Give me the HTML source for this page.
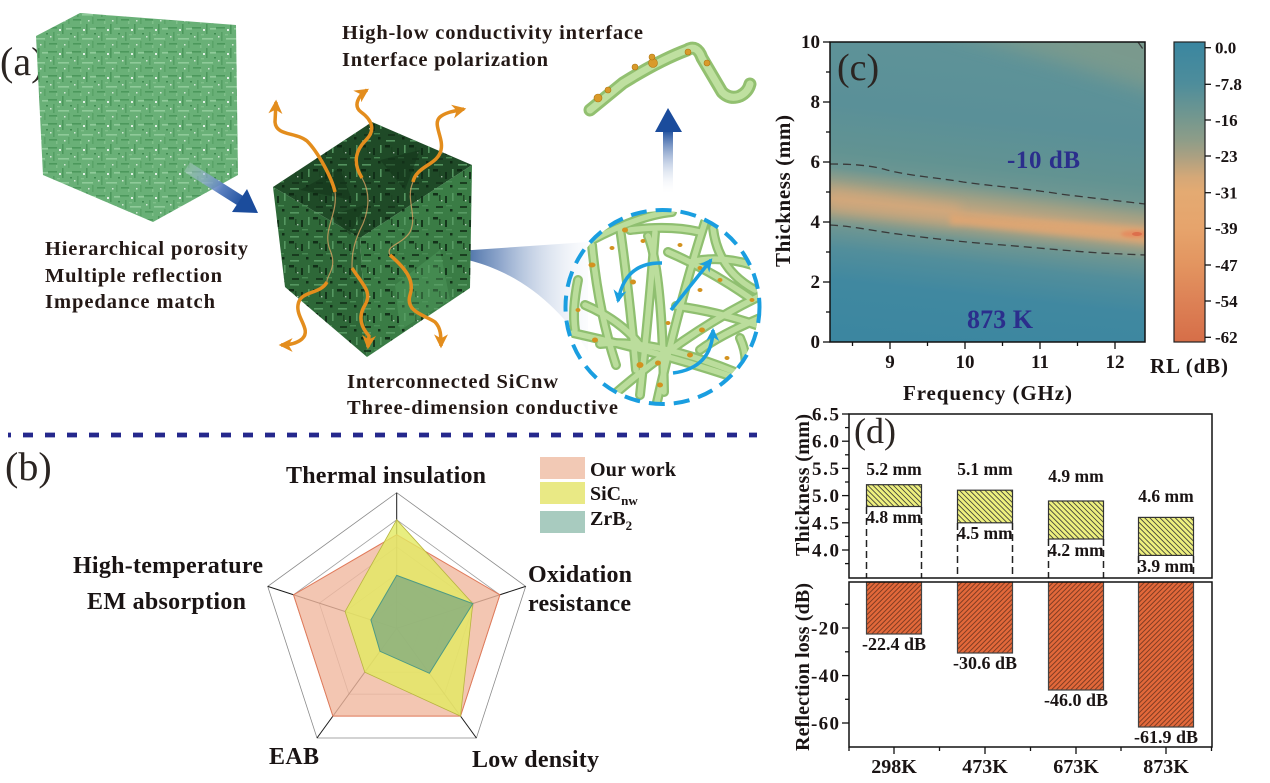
<!DOCTYPE html>
<html><head><meta charset="utf-8">
<style>
html,body{margin:0;padding:0;background:#fff;}
svg{display:block;}
text{font-family:"Liberation Serif","DejaVu Serif",serif;}
.b{font-weight:bold;fill:#1a1414;}
.pl{font-weight:normal;fill:#2b2522;}
</style></head><body>
<svg width="1270" height="783" viewBox="0 0 1270 783" xmlns="http://www.w3.org/2000/svg">
<defs>
 <pattern id="lg" width="24" height="24" patternUnits="userSpaceOnUse">
  <rect width="24" height="24" fill="#69b077"/>
  <rect x="0" y="3" width="9" height="1.6" fill="#4c985c"/>
  <rect x="14" y="0" width="1.6" height="10" fill="#4c985c"/>
  <rect x="5" y="8" width="1.6" height="9" fill="#559f64"/>
  <rect x="10" y="14" width="11" height="1.6" fill="#8fca99"/>
  <rect x="18" y="4" width="6" height="1.6" fill="#8fca99"/>
  <rect x="1" y="19" width="8" height="1.6" fill="#4c985c"/>
  <rect x="20" y="17" width="1.6" height="7" fill="#5aa468"/>
  <rect x="11" y="5" width="2" height="2" fill="#ffffff" opacity="0.8"/>
  <rect x="2" y="12" width="1.5" height="1.5" fill="#ffffff" opacity="0.7"/>
  <rect x="16" y="20" width="1.5" height="1.5" fill="#ffffff" opacity="0.7"/>
  <rect x="8" y="21" width="1.5" height="3" fill="#7fbf8a"/>
  <rect x="22" y="9" width="2" height="1.5" fill="#3f8a50"/>
  <rect x="9" y="10" width="3" height="1.4" fill="#7fbf8a"/>
 </pattern>
 <pattern id="dk" width="24" height="24" patternUnits="userSpaceOnUse">
  <rect x="1" y="1" width="5" height="2.5" fill="#0c2411"/>
  <rect x="13" y="4" width="2" height="7" fill="#0f2a15"/>
  <rect x="4" y="14" width="7" height="2" fill="#14331a"/>
  <rect x="18" y="17" width="2.5" height="2.5" fill="#0c2411"/>
  <rect x="9" y="8" width="1.4" height="1.4" fill="#ffffff" opacity="0.7"/>
  <rect x="20" y="1" width="1.6" height="8" fill="#5c9f68"/>
  <rect x="2" y="20" width="9" height="1.6" fill="#5c9f68"/>
  <rect x="14" y="13" width="6" height="1.4" fill="#4d8f58"/>
  <rect x="7" y="3" width="1.5" height="6" fill="#1b4322"/>
 </pattern>
 <linearGradient id="ba" gradientUnits="userSpaceOnUse" x1="187" y1="167" x2="245" y2="204">
  <stop offset="0" stop-color="#c8d4ea" stop-opacity="0.3"/>
  <stop offset="0.6" stop-color="#5a7fbf"/>
  <stop offset="1" stop-color="#1b4c9c"/>
 </linearGradient>
 <linearGradient id="cone" gradientUnits="userSpaceOnUse" x1="443" y1="0" x2="600" y2="0">
  <stop offset="0" stop-color="#17488a"/>
  <stop offset="0.35" stop-color="#6d8cbc" stop-opacity="0.8"/>
  <stop offset="1" stop-color="#e8eef8" stop-opacity="0"/>
 </linearGradient>
 <linearGradient id="va" gradientUnits="userSpaceOnUse" x1="0" y1="195" x2="0" y2="130">
  <stop offset="0" stop-color="#ffffff" stop-opacity="0"/>
  <stop offset="1" stop-color="#1b4c9c"/>
 </linearGradient>
 <clipPath id="circ"><circle cx="662.5" cy="307" r="96"/></clipPath>
 <clipPath id="plot"><rect x="830" y="42" width="315" height="300"/></clipPath>
 <marker id="oh" viewBox="0 0 12 12" refX="10" refY="6" markerWidth="14" markerHeight="14" markerUnits="userSpaceOnUse" orient="auto">
  <path d="M0,0 L12,6 L0,12 L3.5,6 Z" fill="#e38d1d"/>
 </marker>
 <marker id="bh" viewBox="0 0 12 12" refX="10" refY="6" markerWidth="13" markerHeight="13" markerUnits="userSpaceOnUse" orient="auto">
  <path d="M0,0 L12,6 L0,12 L3.5,6 Z" fill="#1a9fe0"/>
 </marker>
 <linearGradient id="hm" gradientUnits="userSpaceOnUse" x1="1006" y1="41" x2="971" y2="360">
  <stop offset="0" stop-color="#5f9398"/>
  <stop offset="0.25" stop-color="#5a9098"/>
  <stop offset="0.40" stop-color="#629392"/>
  <stop offset="0.45" stop-color="#6c9692"/>
  <stop offset="0.50" stop-color="#a0a085"/>
  <stop offset="0.547" stop-color="#c9a67d"/>
  <stop offset="0.59" stop-color="#a3a084"/>
  <stop offset="0.633" stop-color="#6e9692"/>
  <stop offset="0.70" stop-color="#528e9b"/>
  <stop offset="0.80" stop-color="#4088a0"/>
  <stop offset="1" stop-color="#3b86a0"/>
 </linearGradient>
 <linearGradient id="cb" x1="0" y1="0" x2="0" y2="1">
  <stop offset="0" stop-color="#3a86a0"/>
  <stop offset="0.14" stop-color="#4e8d9b"/>
  <stop offset="0.26" stop-color="#76988e"/>
  <stop offset="0.33" stop-color="#8f9d88"/>
  <stop offset="0.38" stop-color="#aaa082"/>
  <stop offset="0.45" stop-color="#d4a878"/>
  <stop offset="0.50" stop-color="#e4aa72"/>
  <stop offset="0.62" stop-color="#e6a46c"/>
  <stop offset="0.74" stop-color="#e39560"/>
  <stop offset="0.86" stop-color="#dd8256"/>
  <stop offset="1" stop-color="#d66e48"/>
 </linearGradient>
 <filter id="bl10" x="-30%" y="-100%" width="160%" height="300%"><feGaussianBlur stdDeviation="10"/></filter>
 <filter id="bl5" x="-30%" y="-100%" width="160%" height="300%"><feGaussianBlur stdDeviation="5"/></filter>
 <filter id="bl3" x="-30%" y="-100%" width="160%" height="300%"><feGaussianBlur stdDeviation="3"/></filter>
 <filter id="bl1" x="-50%" y="-200%" width="200%" height="500%"><feGaussianBlur stdDeviation="1.5"/></filter>
 <pattern id="hy" width="3.6" height="10" patternUnits="userSpaceOnUse" patternTransform="rotate(-45)">
  <rect width="3.6" height="10" fill="#eef07e"/>
  <line x1="0.5" y1="0" x2="0.5" y2="10" stroke="#333" stroke-width="0.8"/>
 </pattern>
 <pattern id="ho" width="3.4" height="10" patternUnits="userSpaceOnUse" patternTransform="rotate(45)">
  <rect width="3.4" height="10" fill="#e2683a"/>
  <line x1="0.5" y1="0" x2="0.5" y2="10" stroke="#5a2a18" stroke-width="0.7"/>
 </pattern>
</defs>

<!-- ================= PANEL (a) ================= -->
<text class="pl" x="0" y="75" font-size="40">(a)</text>

<!-- light cube -->
<polygon points="36,36 80,13 236,25 238,175 153,222 43,175" fill="url(#lg)"/>

<!-- blue diagonal arrow -->
<line x1="187" y1="167" x2="244" y2="203" stroke="url(#ba)" stroke-width="11"/>
<polygon points="258,213 232,212 247,189" fill="#1b4c9c"/>

<!-- cone -->
<path d="M443,252 L588,242 L588,352 C560,305 510,262 443,256 Z" fill="url(#cone)"/>

<!-- dark cube -->
<polygon points="273,187 372,122 472,165 360,238" fill="#1f4a27"/>
<polygon points="273,187 360,238 367,357 285,287" fill="#2e6838"/>
<polygon points="360,238 472,165 470,288 367,357" fill="#3a7c45"/>
<polygon points="273,187 372,122 472,165 470,288 367,357 285,287" fill="url(#dk)" opacity="0.85"/>
<polygon points="300,190 340,168 352,200" fill="#14351a" opacity="0.6"/>
<polygon points="380,160 420,150 405,190" fill="#14351a" opacity="0.6"/>
<polygon points="330,215 365,205 350,235" fill="#14351a" opacity="0.5"/>
<polygon points="395,285 440,250 450,300 400,330" fill="#55a062" opacity="0.4"/>

<!-- faint wave continuations -->
<g fill="none" stroke="#d9a262" stroke-width="1.2" opacity="0.8">
 <path d="M335,192 C338,215 322,230 330,250 C338,268 326,276 327,282"/>
 <path d="M362,178 C372,195 368,215 360,230 C352,248 352,258 352,268"/>
 <path d="M413,182 C405,200 418,215 410,232 C402,245 385,245 390,255"/>
</g>
<!-- orange wave arrows -->
<g fill="none" stroke="#e38d1d" stroke-width="3.5" marker-end="url(#oh)">
 <path d="M335,192 C332,178 318,152 307,141 C296,132 276,136 275,122 L276,102"/>
 <path d="M362,178 C352,162 356,150 366,140 C376,130 372,120 361,112 C353,106 358,96 367,90"/>
 <path d="M413,182 C416,166 438,165 441,150 C444,138 432,124 440,117 C446,112 455,111 464,109"/>
 <path d="M327,282 C320,295 300,290 298,305 C296,318 312,330 302,339 C296,344 288,345 281,345"/>
 <path d="M352,268 C362,284 373,292 365,305 C357,318 362,328 369,336 L368,347"/>
 <path d="M390,255 C405,268 415,280 410,295 C405,312 425,315 435,322 C441,328 441,336 441,346"/>
</g>

<!-- circle fibers -->
<g clip-path="url(#circ)" fill="none" stroke-linecap="round">
 <g stroke="#8fbf70" stroke-width="10">
  <path d="M592,245 Q598,310 616,365"/>
  <path d="M620,228 Q630,300 636,370"/>
  <path d="M573,333 Q660,352 748,382"/>
  <path d="M705,222 Q680,300 657,402"/>
  <path d="M713,228 Q718,270 755,290"/>
  <path d="M592,240 Q640,215 672,212"/>
  <path d="M648,236 Q662,270 664,392"/>
  <path d="M676,306 Q720,312 762,327"/>
  <path d="M600,344 Q650,338 735,372"/>
  <path d="M740,338 Q750,360 742,378"/>
  <path d="M578,280 Q572,310 575,330"/>
  <path d="M668,252 Q710,270 750,298"/>
  <path d="M630,230 Q670,225 700,232"/>
  <path d="M690,262 Q720,255 752,265"/>
  <path d="M585,305 Q620,320 640,345"/>
  <path d="M700,350 Q720,335 760,318"/>
  <path d="M655,232 Q650,300 640,395"/>
  <path d="M617,392 Q690,330 758,297"/>
 </g>
 <g stroke="#bbdd9c" stroke-width="5.5">
  <path d="M592,245 Q598,310 616,365"/>
  <path d="M620,228 Q630,300 636,370"/>
  <path d="M573,333 Q660,352 748,382"/>
  <path d="M705,222 Q680,300 657,402"/>
  <path d="M713,228 Q718,270 755,290"/>
  <path d="M592,240 Q640,215 672,212"/>
  <path d="M648,236 Q662,270 664,392"/>
  <path d="M676,306 Q720,312 762,327"/>
  <path d="M600,344 Q650,338 735,372"/>
  <path d="M740,338 Q750,360 742,378"/>
  <path d="M578,280 Q572,310 575,330"/>
  <path d="M668,252 Q710,270 750,298"/>
  <path d="M630,230 Q670,225 700,232"/>
  <path d="M690,262 Q720,255 752,265"/>
  <path d="M585,305 Q620,320 640,345"/>
  <path d="M700,350 Q720,335 760,318"/>
  <path d="M655,232 Q650,300 640,395"/>
  <path d="M617,392 Q690,330 758,297"/>
 </g>
 <g fill="#d3921f">
  <ellipse cx="625" cy="230" rx="3" ry="2.5"/><ellipse cx="592" cy="265" rx="3.5" ry="2.5"/>
  <ellipse cx="643" cy="241" rx="2.5" ry="2"/><ellipse cx="633" cy="282" rx="3" ry="2.5"/>
  <ellipse cx="680" cy="245" rx="2.5" ry="2"/><ellipse cx="700" cy="268" rx="2.5" ry="2"/>
  <ellipse cx="720" cy="280" rx="2.5" ry="2"/><ellipse cx="595" cy="340" rx="3" ry="2.5"/>
  <ellipse cx="640" cy="365" rx="3.5" ry="3"/><ellipse cx="658" cy="363" rx="3" ry="2.5"/>
  <ellipse cx="690" cy="355" rx="3" ry="2.5"/><ellipse cx="702" cy="330" rx="3" ry="2.5"/>
  <ellipse cx="727" cy="358" rx="2.5" ry="2"/><ellipse cx="735" cy="375" rx="3" ry="2.5"/>
  <ellipse cx="745" cy="360" rx="2.5" ry="2"/><ellipse cx="612" cy="248" rx="2.5" ry="2"/>
  <ellipse cx="668" cy="323" rx="2.5" ry="2"/><ellipse cx="660" cy="385" rx="3" ry="2.5"/>
  <ellipse cx="700" cy="290" rx="2.5" ry="2"/><ellipse cx="752" cy="300" rx="2.5" ry="2"/>
  <ellipse cx="578" cy="310" rx="2.5" ry="2"/>
 </g>
</g>
<!-- blue arrows in circle -->
<g fill="none" stroke="#1a9fe0" stroke-width="3.5" marker-end="url(#bh)">
 <path d="M662,263 Q625,262 618,301"/>
 <path d="M671,310 L711,260"/>
 <path d="M673,373 Q712,368 713,330"/>
</g>
<circle cx="662.5" cy="307" r="97" fill="none" stroke="#1a9ee0" stroke-width="4" stroke-dasharray="16 9"/>

<!-- vertical blue arrow -->
<rect x="663" y="130" width="10" height="65" fill="url(#va)"/>
<polygon points="655,132 682,132 668,108" fill="#1b4c9c"/>

<!-- single fiber top-right -->
<path d="M590,110 L623,83 Q660,60 687,50 Q697,44 702,58 L722,92 Q730,100 740,96 Q748,92 750,84" fill="none" stroke="#92c070" stroke-width="13" stroke-linecap="round" stroke-linejoin="round"/>
<path d="M590,110 L623,83 Q660,60 687,50 Q697,44 702,58 L722,92 Q730,100 740,96 Q748,92 750,84" fill="none" stroke="#bfe0a0" stroke-width="7" stroke-linecap="round" stroke-linejoin="round"/>
<g fill="#d99a2a" stroke="#b07410" stroke-width="0.6">
 <circle cx="598" cy="98" r="4"/><circle cx="608" cy="90" r="3"/><circle cx="635" cy="67" r="3"/>
 <circle cx="653" cy="63" r="4.5"/><circle cx="652" cy="57" r="3"/><circle cx="688" cy="52" r="3"/>
 <circle cx="707" cy="63" r="3"/>
</g>

<!-- panel (a) text -->
<g class="b" font-size="20.5" style="fill:#231815">
 <text x="342" y="39" textLength="301">High-low conductivity interface</text>
 <text x="342" y="66" textLength="206">Interface polarization</text>
 <text x="45" y="255" textLength="203">Hierarchical porosity</text>
 <text x="45" y="282" textLength="177">Multiple reflection</text>
 <text x="45" y="308" textLength="170">Impedance match</text>
 <text x="347" y="388" textLength="211">Interconnected SiCnw</text>
 <text x="347" y="414" textLength="271">Three-dimension conductive</text>
</g>

<!-- separator -->
<line x1="8" y1="435" x2="757" y2="435" stroke="#25288c" stroke-width="4.7" stroke-dasharray="10 12" stroke-dashoffset="7"/>

<!-- ================= PANEL (b) ================= -->
<text class="pl" x="5" y="480" font-size="40">(b)</text>

<g fill="none">
 <polygon points="396.7,601.2 422.5,619.9 412.6,650.2 380.8,650.2 370.9,619.9" stroke="#b0b0b0" stroke-width="0.7"/>
 <polygon points="396.7,574.1 448.3,611.5 428.6,672.2 364.8,672.2 345.1,611.5" stroke="#b0b0b0" stroke-width="0.7"/>
 <polygon points="396.7,546.9 474.1,603.2 444.5,694.1 348.9,694.1 319.3,603.2" stroke="#a0a0a0" stroke-width="0.8"/>
 <polygon points="396.7,519.8 499.9,594.8 460.5,716.1 332.9,716.1 293.5,594.8" stroke="#a0a0a0" stroke-width="0.8"/>
 <polygon points="396.7,492.7 525.7,586.4 476.4,738.0 317.0,738.0 267.7,586.4" stroke="#8a8a8a" stroke-width="0.8"/>
</g>
<g stroke="#1a1a1a" stroke-width="1">
 <line x1="396.7" y1="628.3" x2="396.7" y2="492.7"/>
 <line x1="396.7" y1="628.3" x2="525.7" y2="586.4"/>
 <line x1="396.7" y1="628.3" x2="476.4" y2="738.0"/>
 <line x1="396.7" y1="628.3" x2="317.0" y2="738.0"/>
 <line x1="396.7" y1="628.3" x2="267.7" y2="586.4"/>
</g>
<polygon points="396.7,534.7 499.9,594.8 460.5,716.1 332.9,716.1 293.5,594.8" fill="#f0b89f" fill-opacity="0.8" stroke="#e07a5a" stroke-width="1"/>
<polygon points="396.7,519.8 472.8,603.6 460.5,716.1 364.8,672.2 345.1,611.5" fill="#e2ea60" fill-opacity="0.8" stroke="#b8b440" stroke-width="0.8"/>
<polygon points="396.7,575.4 472.8,603.6 429.4,673.3 380.0,651.3 370.9,619.9" fill="#85ac7f" fill-opacity="0.8" stroke="#4e9a84" stroke-width="1"/>

<g class="b" font-size="24">
 <text x="286" y="483" textLength="200">Thermal insulation</text>
 <text x="73" y="573" textLength="190">High-temperature</text>
 <text x="87" y="609" textLength="159">EM absorption</text>
 <text x="528" y="582" textLength="104">Oxidation</text>
 <text x="528" y="611" textLength="103">resistance</text>
 <text x="269" y="764" textLength="50">EAB</text>
 <text x="472" y="767" textLength="127">Low density</text>
</g>

<!-- legend -->
<rect x="540" y="457" width="45" height="22" fill="#f2c9b5"/>
<rect x="540" y="482" width="45" height="22" fill="#e9e985"/>
<rect x="540" y="511" width="45" height="22" fill="#a8cbbf"/>
<g class="b" font-size="20">
 <text x="590" y="476" textLength="86">Our work</text>
 <text x="590" y="500">SiC<tspan font-size="13" dy="5">nw</tspan></text>
 <text x="590" y="525">ZrB<tspan font-size="13" dy="5">2</tspan></text>
</g>

<!-- ================= PANEL (c) ================= -->
<g clip-path="url(#plot)">
 <rect x="830" y="42" width="315" height="300" fill="url(#hm)"/>
 <polygon points="930,25 1165,25 1165,95 1060,62" fill="#7f9b8c" opacity="0.85" filter="url(#bl10)"/>
 <polygon points="830,188 960,205 960,224 830,210" fill="#d6a87a" opacity="0.6" filter="url(#bl5)"/>
 <polygon points="950,214 1150,228 1150,244 950,224" fill="#e0a672" opacity="0.9" filter="url(#bl3)"/>
 <ellipse cx="1135" cy="234" rx="14" ry="3.5" fill="#e48d60" filter="url(#bl1)"/>
 <ellipse cx="1137" cy="234" rx="5" ry="2" fill="#dc6f4c"/>
 <g fill="none" stroke="#3a3a3a" stroke-width="1.3" stroke-dasharray="8 5">
  <path d="M830,164 C850,164 870,165 887,170 C910,176 940,178 963,182 C1000,187 1030,189 1060,194 C1100,199 1120,201 1145,204"/>
  <path d="M830,225 C850,226 870,230 890,233 C920,237 960,242 1003,245 C1040,248 1070,251 1100,253 L1145,255"/>
  <path d="M1138,42 L1145,52"/>
 </g>
</g>
<rect x="830" y="42" width="315" height="300" fill="none" stroke="#111" stroke-width="1.5"/>
<g stroke="#111" stroke-width="1.3">
 <line x1="823" y1="42" x2="830" y2="42"/><line x1="823" y1="102" x2="830" y2="102"/>
 <line x1="823" y1="162" x2="830" y2="162"/><line x1="823" y1="222" x2="830" y2="222"/>
 <line x1="823" y1="282" x2="830" y2="282"/><line x1="823" y1="342" x2="830" y2="342"/>
 <line x1="826" y1="72" x2="830" y2="72"/><line x1="826" y1="132" x2="830" y2="132"/>
 <line x1="826" y1="192" x2="830" y2="192"/><line x1="826" y1="252" x2="830" y2="252"/>
 <line x1="826" y1="312" x2="830" y2="312"/>
 <line x1="890" y1="342" x2="890" y2="349"/><line x1="965" y1="342" x2="965" y2="349"/>
 <line x1="1040" y1="342" x2="1040" y2="349"/><line x1="1115" y1="342" x2="1115" y2="349"/>
 <line x1="852.5" y1="342" x2="852.5" y2="346"/><line x1="927.5" y1="342" x2="927.5" y2="346"/>
 <line x1="1002.5" y1="342" x2="1002.5" y2="346"/><line x1="1077.5" y1="342" x2="1077.5" y2="346"/>
</g>
<g class="b" font-size="19" text-anchor="end">
 <text x="820" y="48">10</text><text x="820" y="108">8</text><text x="820" y="168">6</text>
 <text x="820" y="228">4</text><text x="820" y="288">2</text><text x="820" y="348">0</text>
</g>
<g class="b" font-size="19" text-anchor="middle">
 <text x="890" y="368">9</text><text x="965" y="368">10</text>
 <text x="1040" y="368">11</text><text x="1115" y="368">12</text>
</g>
<text class="b" x="903" y="400" font-size="21" textLength="169">Frequency (GHz)</text>
<text class="b" font-size="21" text-anchor="middle" transform="translate(790,191) rotate(-90)" textLength="152">Thickness (mm)</text>
<text class="pl" x="837" y="80" font-size="38">(c)</text>
<text x="1007" y="168" font-size="25" font-weight="bold" fill="#2b2e8c" textLength="73">-10 dB</text>
<text x="967" y="328" font-size="26" font-weight="bold" fill="#2b2e8c" textLength="66">873 K</text>

<!-- colorbar -->
<rect x="1174" y="42" width="31" height="300" fill="url(#cb)" stroke="#222" stroke-width="1.2"/>
<g stroke="#111" stroke-width="1.3">
 <line x1="1205" y1="47.7" x2="1211" y2="47.7"/><line x1="1205" y1="84.3" x2="1211" y2="84.3"/>
 <line x1="1205" y1="120" x2="1211" y2="120"/><line x1="1205" y1="156" x2="1211" y2="156"/>
 <line x1="1205" y1="192.7" x2="1211" y2="192.7"/><line x1="1205" y1="228.3" x2="1211" y2="228.3"/>
 <line x1="1205" y1="265" x2="1211" y2="265"/><line x1="1205" y1="301" x2="1211" y2="301"/>
 <line x1="1205" y1="337.3" x2="1211" y2="337.3"/>
</g>
<g class="b" font-size="17">
 <text x="1215" y="53.5">0.0</text><text x="1215" y="90">-7.8</text>
 <text x="1215" y="126">-16</text><text x="1215" y="162">-23</text>
 <text x="1215" y="198.5">-31</text><text x="1215" y="234">-39</text>
 <text x="1215" y="271">-47</text><text x="1215" y="307">-54</text>
 <text x="1215" y="343">-62</text>
</g>
<text class="b" x="1150" y="373" font-size="21" textLength="78">RL (dB)</text>

<!-- ================= PANEL (d) ================= -->
<rect x="866.5" y="484.7" width="55" height="21.8" fill="url(#hy)" stroke="#333" stroke-width="1.2"/>
<rect x="957.5" y="490.2" width="55" height="32.6" fill="url(#hy)" stroke="#333" stroke-width="1.2"/>
<rect x="1048.5" y="501" width="55" height="38" fill="url(#hy)" stroke="#333" stroke-width="1.2"/>
<rect x="1138.5" y="517.4" width="55" height="38" fill="url(#hy)" stroke="#333" stroke-width="1.2"/>
<g stroke="#222" stroke-width="1.5" stroke-dasharray="7 4">
 <line x1="866.5" y1="507" x2="866.5" y2="578"/><line x1="921.5" y1="507" x2="921.5" y2="578"/>
 <line x1="957.5" y1="523" x2="957.5" y2="578"/><line x1="1012.5" y1="523" x2="1012.5" y2="578"/>
 <line x1="1048.5" y1="539" x2="1048.5" y2="578"/><line x1="1103.5" y1="539" x2="1103.5" y2="578"/>
 <line x1="1138.5" y1="556" x2="1138.5" y2="578"/><line x1="1193.5" y1="556" x2="1193.5" y2="578"/>
</g>
<rect x="866.5" y="582" width="55" height="52" fill="url(#ho)" stroke="#444" stroke-width="1.2"/>
<rect x="957.5" y="582" width="55" height="71" fill="url(#ho)" stroke="#444" stroke-width="1.2"/>
<rect x="1048.5" y="582" width="55" height="108" fill="url(#ho)" stroke="#444" stroke-width="1.2"/>
<rect x="1138.5" y="582" width="55" height="145" fill="url(#ho)" stroke="#444" stroke-width="1.2"/>

<rect x="849" y="414" width="363" height="164" fill="none" stroke="#111" stroke-width="1.5"/>
<rect x="849" y="582" width="363" height="165" fill="none" stroke="#111" stroke-width="1.5"/>

<g stroke="#111" stroke-width="1.3">
 <line x1="842" y1="414" x2="849" y2="414"/><line x1="842" y1="441.2" x2="849" y2="441.2"/>
 <line x1="842" y1="468.4" x2="849" y2="468.4"/><line x1="842" y1="495.6" x2="849" y2="495.6"/>
 <line x1="842" y1="522.8" x2="849" y2="522.8"/><line x1="842" y1="550" x2="849" y2="550"/>
 <line x1="845" y1="427.6" x2="849" y2="427.6"/><line x1="845" y1="454.8" x2="849" y2="454.8"/>
 <line x1="845" y1="482" x2="849" y2="482"/><line x1="845" y1="509.2" x2="849" y2="509.2"/>
 <line x1="845" y1="536.4" x2="849" y2="536.4"/><line x1="845" y1="563.6" x2="849" y2="563.6"/>
 <line x1="842" y1="628" x2="849" y2="628"/><line x1="842" y1="675.6" x2="849" y2="675.6"/>
 <line x1="842" y1="723" x2="849" y2="723"/>
 <line x1="845" y1="604.3" x2="849" y2="604.3"/><line x1="845" y1="651.8" x2="849" y2="651.8"/>
 <line x1="845" y1="699.3" x2="849" y2="699.3"/>
 <line x1="894" y1="747" x2="894" y2="754"/><line x1="985" y1="747" x2="985" y2="754"/>
 <line x1="1076" y1="747" x2="1076" y2="754"/><line x1="1166" y1="747" x2="1166" y2="754"/>
 <line x1="849" y1="747" x2="849" y2="751"/><line x1="939.5" y1="747" x2="939.5" y2="751"/>
 <line x1="1030.5" y1="747" x2="1030.5" y2="751"/><line x1="1121" y1="747" x2="1121" y2="751"/>
 <line x1="1211.5" y1="747" x2="1211.5" y2="751"/>
</g>

<g class="b" font-size="19" text-anchor="end">
 <text x="839" y="420.5" textLength="27">6.5</text><text x="839" y="447.7" textLength="27">6.0</text>
 <text x="839" y="474.9" textLength="27">5.5</text><text x="839" y="502.1" textLength="27">5.0</text>
 <text x="839" y="529.3" textLength="27">4.5</text><text x="839" y="556.5" textLength="27">4.0</text>
 <text x="839" y="634.5" textLength="28">-20</text><text x="839" y="682" textLength="28">-40</text>
 <text x="839" y="729.5" textLength="28">-60</text>
</g>
<text class="b" font-size="20" text-anchor="middle" transform="translate(809,485) rotate(-90)" textLength="142">Thickness (mm)</text>
<text class="b" font-size="20" text-anchor="middle" transform="translate(809,667) rotate(-90)" textLength="168">Reflection loss (dB)</text>

<g class="b" font-size="20" text-anchor="middle">
 <text x="894" y="773">298K</text><text x="985" y="773">473K</text>
 <text x="1076" y="773">673K</text><text x="1166" y="773">873K</text>
</g>
<g class="b" font-size="17.5" text-anchor="middle">
 <text x="894" y="475">5.2 mm</text><text x="985" y="475">5.1 mm</text>
 <text x="1076" y="482">4.9 mm</text><text x="1166" y="502">4.6 mm</text>
 <text x="894" y="523">4.8 mm</text><text x="985" y="539">4.5 mm</text>
 <text x="1076" y="556">4.2 mm</text><text x="1166" y="572">3.9 mm</text>
</g>
<g class="b" font-size="18" text-anchor="middle">
 <text x="894" y="650">-22.4 dB</text><text x="985" y="669">-30.6 dB</text>
 <text x="1076" y="706">-46.0 dB</text><text x="1166" y="743">-61.9 dB</text>
</g>
<text class="pl" x="854" y="443" font-size="36">(d)</text>
</svg>
</body></html>
